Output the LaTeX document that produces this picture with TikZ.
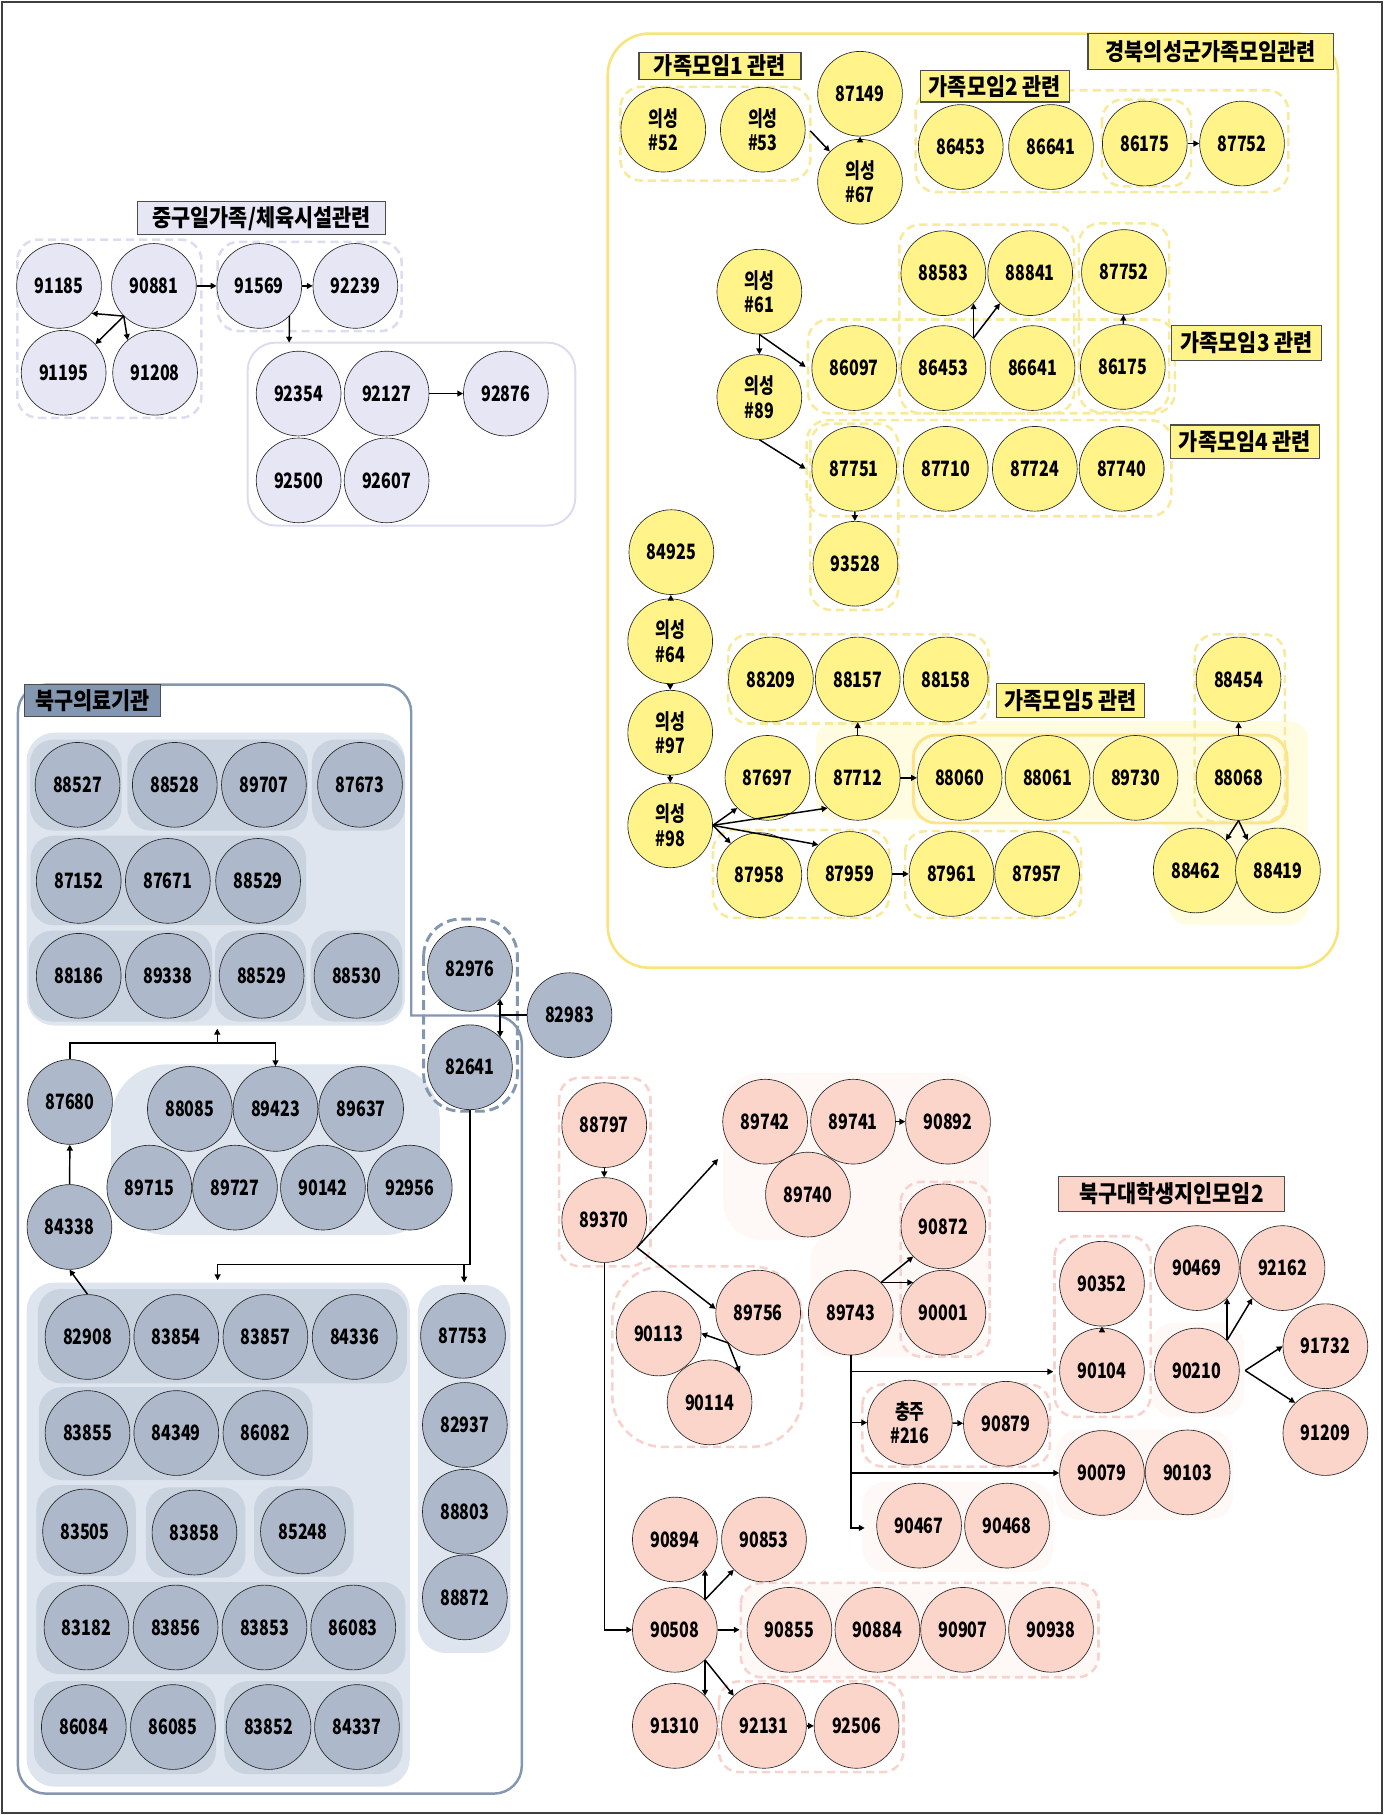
\documentclass[tikz,border=0pt]{standalone}
\usepackage{fontspec}
\setmainfont{Noto Sans CJK KR}
\newfontfamily\numfont[FakeStretch=0.76]{Noto Sans CJK KR}
\newfontfamily\ttlfont[FakeStretch=0.88]{Noto Sans CJK KR}
\usepackage{tikz}
\usetikzlibrary{arrows.meta}

\definecolor{frm}{HTML}{3F3F3F}
\definecolor{lavfill}{HTML}{E6E6F5}
\definecolor{lavdash}{HTML}{DDDDF2}
\definecolor{lavline}{HTML}{DCDCF0}
\definecolor{ylwfill}{HTML}{FFF38A}
\definecolor{ylwline}{HTML}{F8E47C}
\definecolor{ylwdash}{HTML}{F7EA9C}
\definecolor{ylwsolid}{HTML}{FDE48A}
\definecolor{ylwbg}{HTML}{FFFCE2}
\definecolor{blufill}{HTML}{ADB9CA}
\definecolor{bluline}{HTML}{8497B0}
\definecolor{blubg}{HTML}{DEE5EE}
\definecolor{blugrp}{HTML}{C9D2DF}
\definecolor{pnkfill}{HTML}{FBD5CA}
\definecolor{pnkdash}{HTML}{F8D3CD}
\definecolor{pnkbg}{HTML}{FEF8F7}

\begin{document}
\begin{tikzpicture}[x=0.025cm, y=-0.025cm,
   bub/.style={circle, draw=black!85, line width=0.4pt, minimum size=1.83cm, inner sep=0pt, align=center, font=\numfont\bfseries\fontsize{13}{15}\selectfont},
   lav/.style={bub, fill=lavfill},
   ylw/.style={bub, fill=ylwfill},
   blu/.style={bub, fill=blufill},
   pnk/.style={bub, fill=pnkfill},
   ttl/.style={draw=black!70, line width=0.7pt, inner sep=0pt, font=\ttlfont\bfseries\fontsize{14.5}{16}\selectfont},
   lnk/.style={line width=0.9pt, -{Triangle[length=3.6pt, width=3.6pt]}},
   grpd/.style={dashed, dash pattern=on 5pt off 3pt, line width=1.6pt, rounded corners=0.45cm}]
   \useasboundingbox (0,0) rectangle (1198,1568);
   \draw[line width=1.2pt, draw=frm] (1.5,2) rectangle (1194,1566);

   \draw[grpd, draw=lavdash] (15,207) rectangle (174,361);
   \draw[grpd, draw=lavdash] (188,209) rectangle (347,286);
   \draw[line width=1.2pt, draw=lavline, rounded corners=0.6cm] (214,296) rectangle (497,454);
   \node[ttl, fill=lavfill, minimum width=5.35cm, minimum height=0.72cm] (tJung) at (226,188.5) {중구일가족/체육시설관련};
   \node[lav] (n91185) at (51,247) {91185};
   \node[lav] (n90881) at (133,247) {90881};
   \node[lav] (n91195) at (55,322) {91195};
   \node[lav] (n91208) at (134,322) {91208};
   \node[lav] (n91569) at (224,247) {91569};
   \node[lav] (n92239) at (307,247) {92239};
   \node[lav] (n92354) at (258,340) {92354};
   \node[lav] (n92127) at (334,340) {92127};
   \node[lav] (n92876) at (437,340) {92876};
   \node[lav] (n92500) at (258,415) {92500};
   \node[lav] (n92607) at (334,415) {92607};
   \coordinate (cLav) at (249.8,296);
   \draw[lnk] (n90881) -- (n91569);
   \draw[lnk] (n91569) -- (n92239);
   \draw[lnk] (n91569.-45) -- (cLav);
   \draw[lnk] (n90881.225) -- (n91185.-40);
   \draw[lnk] (n90881.225) -- (n91195.42);
   \draw[lnk] (n90881.225) -- (n91208.130);
   \draw[lnk] (n92127) -- (n92876);

   \draw[draw=ylwline, line width=1.6pt, rounded corners=0.9cm] (525,29) rectangle (1156,836);
   \fill[ylwbg, rounded corners=0.4cm] (705,623) -- (1130,623) -- (1130,799) -- (1010,799) -- (1010,708) -- (705,708) -- cycle;
   \draw[grpd, draw=ylwdash] (536,75) rectangle (700,156);
   \draw[grpd, draw=ylwdash] (791,78) rectangle (1113,166);
   \draw[grpd, draw=ylwdash] (952,86) rectangle (1029,161);
   \draw[grpd, draw=ylwdash] (777,194) rectangle (928,357);
   \draw[grpd, draw=ylwdash] (698,276) rectangle (1015,357);
   \draw[grpd, draw=ylwdash] (932,193) rectangle (1010,356);
   \draw[grpd, draw=ylwdash] (697,363) rectangle (1012,446);
   \draw[grpd, draw=ylwdash] (700,366) rectangle (776,527);
   \draw[grpd, draw=ylwdash] (629,548) rectangle (854,625);
   \draw[grpd, draw=ylwdash] (1032,548) rectangle (1110,710);
   \draw[grpd, draw=ylwdash] (616,717) rectangle (768,793);
   \draw[grpd, draw=ylwdash] (782,718) rectangle (934,793);
   \draw[draw=ylwsolid, line width=1.8pt, rounded corners=0.5cm] (789,635) rectangle (1112,711);
   \node[ttl, fill=ylwfill, minimum width=5.3cm, minimum height=0.78cm] (tUi) at (1046,44.5) {경북의성군가족모임관련};
   \node[ttl, fill=ylwfill, minimum width=3.5cm, minimum height=0.58cm] (tGa1) at (622,57) {가족모임1 관련};
   \node[ttl, fill=ylwfill, minimum width=3.22cm, minimum height=0.68cm] (tGa2) at (859.5,74.5) {가족모임2 관련};
   \node[ttl, fill=ylwfill, minimum width=3.23cm, minimum height=0.74cm] (tGa3) at (1077,296.3) {가족모임3 관련};
   \node[ttl, fill=ylwfill, minimum width=3.22cm, minimum height=0.72cm] (tGa4) at (1075.5,381.5) {가족모임4 관련};
   \node[ttl, fill=ylwfill, minimum width=3.2cm, minimum height=0.74cm] (tGa5) at (925,605) {가족모임5 관련};
   \node[ylw] (n52) at (573,112) {의성\\\#52};
   \node[ylw] (n53) at (659,112) {의성\\\#53};
   \node[ylw] (n87149) at (743,81) {87149};
   \node[ylw] (n67) at (743,157) {의성\\\#67};
   \node[ylw] (n86453) at (830,127) {86453};
   \node[ylw] (n86641) at (908,127) {86641};
   \node[ylw] (n86175) at (989,124) {86175};
   \node[ylw] (n87752) at (1073,124) {87752};
   \node[ylw] (n61) at (656,252) {의성\\\#61};
   \node[ylw] (n89) at (656,343) {의성\\\#89};
   \node[ylw] (n88583) at (815,236) {88583};
   \node[ylw] (n88841) at (890,236) {88841};
   \node[ylw] (n87752b) at (971,235) {87752};
   \node[ylw] (n86097) at (738,318) {86097};
   \node[ylw] (n86453b) at (815,318) {86453};
   \node[ylw] (n86641b) at (892,318) {86641};
   \node[ylw] (n86175b) at (970,317) {86175};
   \node[ylw] (n87751) at (738,405) {87751};
   \node[ylw] (n87710) at (817,405) {87710};
   \node[ylw] (n87724) at (894,405) {87724};
   \node[ylw] (n87740) at (969,405) {87740};
   \node[ylw] (n93528) at (739,487) {93528};
   \node[ylw] (n84925) at (580,477) {84925};
   \node[ylw] (n64) at (579,554) {의성\\\#64};
   \node[ylw] (n97) at (579,633) {의성\\\#97};
   \node[ylw] (n98) at (579,713) {의성\\\#98};
   \node[ylw] (n88209) at (666,587) {88209};
   \node[ylw] (n88157) at (741,587) {88157};
   \node[ylw] (n88158) at (817,587) {88158};
   \node[ylw] (n88454) at (1070,587) {88454};
   \node[ylw] (n87697) at (663,672) {87697};
   \node[ylw] (n87712) at (741,672) {87712};
   \node[ylw] (n88060) at (829,672) {88060};
   \node[ylw] (n88061) at (905,672) {88061};
   \node[ylw] (n89730) at (981,672) {89730};
   \node[ylw] (n88068) at (1070,672) {88068};
   \node[ylw] (n87958) at (656,756) {87958};
   \node[ylw] (n87959) at (734,755) {87959};
   \node[ylw] (n87961) at (822,755) {87961};
   \node[ylw] (n87957) at (896,755) {87957};
   \node[ylw] (n88462) at (1033,752) {88462};
   \node[ylw] (n88419) at (1104,752) {88419};
   \coordinate (cG1) at (700,113);
   \coordinate (cGD) at (696,317);
   \coordinate (cGF) at (696,405);
   \draw[lnk] (cG1) -- (n67.135);
   \draw[lnk] (n67) -- (n87149);
   \draw[lnk] (n86175) -- (n87752);
   \draw[lnk] (n61) -- (n89);
   \draw[lnk] (n61.south) -- (cGD);
   \draw[lnk] (n89.south) -- (cGF);
   \draw[lnk] (n86453b.45) -- (n88583.-45);
   \draw[lnk] (n86453b.45) -- (n88841.225);
   \draw[lnk] (n86175b) -- (n87752b);
   \draw[lnk] (n87751) -- (n93528);
   \draw[lnk] (n64) -- (n84925);
   \draw[lnk] (n64) -- (n97);
   \draw[lnk] (n97) -- (n98);
   \draw[lnk] (n98.east) -- (n87697.225);
   \draw[lnk] (n98.east) -- (n87712.225);
   \draw[lnk] (n98.east) -- (n87958.132);
   \draw[lnk] (n98.east) -- (n87959.137);
   \draw[lnk] (n87712) -- (n88060);
   \draw[lnk] (n87712) -- (n88157);
   \draw[lnk] (n87959) -- (n87961);
   \draw[lnk] (n88068) -- (n88454);
   \draw[lnk] (n88068.south) -- (n88462.45);
   \draw[lnk] (n88068.south) -- (n88419.135);

   \fill[blubg, rounded corners=0.6cm] (23,633) rectangle (350,886);
   \fill[blugrp, rounded corners=0.5cm] (26,639) rectangle (105,717.5);
   \fill[blugrp, rounded corners=0.5cm] (110,639) rectangle (266,717.5);
   \fill[blugrp, rounded corners=0.5cm] (269.5,639) rectangle (349.7,717.5);
   \fill[blugrp, rounded corners=0.5cm] (26.4,722) rectangle (264.5,799.3);
   \fill[blugrp, rounded corners=0.5cm] (24.8,804) rectangle (183.4,882.5);
   \fill[blugrp, rounded corners=0.5cm] (185.7,804) rectangle (264.4,882.5);
   \fill[blugrp, rounded corners=0.5cm] (268.4,804) rectangle (347.7,882.5);
   \fill[blubg, rounded corners=1.2cm] (96,919.5) rectangle (380,1067);
   \fill[blubg, rounded corners=0.6cm] (23,1108) rectangle (354,1543.5);
   \fill[blugrp, rounded corners=0.5cm] (32.7,1113.6) rectangle (351.6,1195);
   \fill[blugrp, rounded corners=0.5cm] (33.6,1198.4) rectangle (270,1278.6);
   \fill[blugrp, rounded corners=0.5cm] (31.5,1283) rectangle (117.3,1361.6);
   \fill[blugrp, rounded corners=0.5cm] (126,1285) rectangle (212,1363);
   \fill[blugrp, rounded corners=0.5cm] (219.5,1284) rectangle (305.5,1362);
   \fill[blugrp, rounded corners=0.5cm] (31.5,1366.7) rectangle (350.2,1446.3);
   \fill[blugrp, rounded corners=0.5cm] (29.2,1452.4) rectangle (186.7,1532.6);
   \fill[blugrp, rounded corners=0.5cm] (193.7,1452.4) rectangle (347.8,1532.6);
   \fill[blubg, rounded corners=0.6cm] (361,1110) rectangle (441,1428);
   \draw[draw=bluline, line width=1.5pt, line cap=rect] (355.3,877.3) [rounded corners=0.6cm] -- (450.8,877.3) -- (450.8,1549.5) -- (15.5,1549.5) -- (15.5,591.5) -- (355.3,591.5) -- (355.3,877.3);
   \draw[draw=bluline, dashed, dash pattern=on 6pt off 3pt, line width=1.8pt, rounded corners=0.8cm] (366,794) rectangle (447,960);
   \node[ttl, fill=bluline, minimum width=2.93cm, minimum height=0.7cm] (tBuk) at (80,605) {북구의료기관};
   \node[blu] (n88527) at (67,678) {88527};
   \node[blu] (n88528) at (151,678) {88528};
   \node[blu] (n89707) at (228,678) {89707};
   \node[blu] (n87673) at (311,678) {87673};
   \node[blu] (n87152) at (68,761) {87152};
   \node[blu] (n87671) at (145,761) {87671};
   \node[blu] (n88529) at (223,761) {88529};
   \node[blu] (n88186) at (68,843) {88186};
   \node[blu] (n89338) at (145,843) {89338};
   \node[blu] (n88529b) at (226,843) {88529};
   \node[blu] (n88530) at (308,843) {88530};
   \node[blu] (n82976) at (406,837) {82976};
   \node[blu] (n82641) at (406,922) {82641};
   \node[blu] (n82983) at (492,877) {82983};
   \node[blu] (n87680) at (60.5,952) {87680};
   \node[blu] (n88085) at (164,958) {88085};
   \node[blu] (n89423) at (238,958) {89423};
   \node[blu] (n89637) at (312,958) {89637};
   \node[blu] (n89715) at (129,1026) {89715};
   \node[blu] (n89727) at (203,1026) {89727};
   \node[blu] (n90142) at (279,1026) {90142};
   \node[blu] (n92956) at (354,1026) {92956};
   \node[blu] (n84338) at (60,1060) {84338};
   \node[blu] (n82908) at (75.6,1155) {82908};
   \node[blu] (n83854) at (152.3,1155) {83854};
   \node[blu] (n83857) at (229.3,1155) {83857};
   \node[blu] (n84336) at (306.4,1155) {84336};
   \node[blu] (n83855) at (75.6,1238) {83855};
   \node[blu] (n84349) at (152.3,1238) {84349};
   \node[blu] (n86082) at (229.3,1238) {86082};
   \node[blu] (n83505) at (73.5,1323) {83505};
   \node[blu] (n83858) at (168,1324) {83858};
   \node[blu] (n85248) at (261.7,1323) {85248};
   \node[blu] (n83182) at (74.7,1406) {83182};
   \node[blu] (n83856) at (151.7,1406) {83856};
   \node[blu] (n83853) at (228.5,1406) {83853};
   \node[blu] (n86083) at (305.2,1406) {86083};
   \node[blu] (n86084) at (72.4,1492) {86084};
   \node[blu] (n86085) at (149.4,1492) {86085};
   \node[blu] (n83852) at (232,1492) {83852};
   \node[blu] (n84337) at (308.4,1492) {84337};
   \node[blu] (n87753) at (400,1154) {87753};
   \node[blu] (n82937) at (401.6,1231) {82937};
   \node[blu] (n88803) at (401.6,1306) {88803};
   \node[blu] (n88872) at (401.6,1380) {88872};
   \coordinate (jX) at (n82976.-45 |- n82983.west);
   \coordinate (jTop) at (187.7,901);
   \coordinate (cUp) at (187.7,888.7);
   \coordinate (jLow) at (406,1092.3);
   \coordinate (cL) at (188,1106);
   \coordinate (cR) at (401,1108);
   \draw[line width=0.9pt] (n82983.west) -- (jX);
   \draw[lnk] (jX) -- (n82976.-45);
   \draw[lnk] (jX) -- (n82641.45);
   \draw[lnk] (n87680.north) |- (jTop) -| (n89423.north);
   \draw[lnk] (jTop) -- (cUp);
   \draw[lnk] (n84338) -- (n87680);
   \draw[lnk] (n82908.north) -- (n84338.south);
   \draw[lnk] (n82641.south) -- (jLow) -| (cL);
   \draw[lnk] (jLow -| cR) -- (cR);

   \fill[pnkbg, rounded corners=0.8cm] (625,927) rectangle (854,1071);
   \fill[pnkbg, rounded corners=0.5cm] (700,1068) rectangle (855,1172);
   \fill[pnkbg, rounded corners=0.5cm] (994,1143) rectangle (1075,1224);
   \fill[pnkbg, rounded corners=0.5cm] (912,1235) rectangle (1065,1313);
   \fill[pnkbg, rounded corners=0.5cm] (745,1280) rectangle (910,1358);
   \fill[pnkbg, rounded corners=0.5cm] (640,1367.5) rectangle (949,1449);
   \draw[grpd, draw=pnkdash] (483,931) rectangle (562,1094);
   \draw[grpd, draw=pnkdash] (778,1021) rectangle (855,1172);
   \draw[grpd, draw=pnkdash, rounded corners=1.1cm] (529,1094) rectangle (693,1250);
   \draw[grpd, draw=pnkdash] (745,1196) rectangle (907,1267);
   \draw[grpd, draw=pnkdash] (911,1068) rectangle (994,1224);
   \draw[grpd, draw=pnkdash] (640,1367.5) rectangle (949,1449);
   \draw[grpd, draw=pnkdash] (621,1452.5) rectangle (780.5,1531);
   \node[ttl, fill=pnkfill, minimum width=4.88cm, minimum height=0.76cm] (tDae) at (1012,1031.4) {북구대학생지인모임2};
   \node[pnk] (n88797) at (522,972) {88797};
   \node[pnk] (n89370) at (522,1054) {89370};
   \node[pnk] (n89742) at (661,969) {89742};
   \node[pnk] (n89741) at (737,969) {89741};
   \node[pnk] (n90892) at (819,969) {90892};
   \node[pnk] (n89740) at (698,1032) {89740};
   \node[pnk] (n90872) at (815,1059.5) {90872};
   \node[pnk] (n89756) at (655,1134) {89756};
   \node[pnk] (n89743) at (735,1134) {89743};
   \node[pnk] (n90001) at (815,1134) {90001};
   \node[pnk] (n90113) at (569,1152) {90113};
   \node[pnk] (n90114) at (613,1211.5) {90114};
   \node[pnk] (n216) at (786,1229) {충주\\\#216};
   \node[pnk] (n90879) at (869,1230) {90879};
   \node[pnk] (n90352) at (952,1109) {90352};
   \node[pnk] (n90104) at (952,1184) {90104};
   \node[pnk] (n90469) at (1034,1095.5) {90469};
   \node[pnk] (n92162) at (1108,1095.5) {92162};
   \node[pnk] (n90210) at (1034,1184) {90210};
   \node[pnk] (n91732) at (1145,1163) {91732};
   \node[pnk] (n91209) at (1145,1238) {91209};
   \node[pnk] (n90079) at (952,1272.5) {90079};
   \node[pnk] (n90103) at (1026,1272) {90103};
   \node[pnk] (n90467) at (794,1318) {90467};
   \node[pnk] (n90468) at (870,1318) {90468};
   \node[pnk] (n90894) at (583,1330) {90894};
   \node[pnk] (n90853) at (660,1330) {90853};
   \node[pnk] (n90508) at (583,1408) {90508};
   \node[pnk] (n90855) at (682,1408) {90855};
   \node[pnk] (n90884) at (758,1408) {90884};
   \node[pnk] (n90907) at (832,1408) {90907};
   \node[pnk] (n90938) at (908,1408) {90938};
   \node[pnk] (n91310) at (583,1491) {91310};
   \node[pnk] (n92131) at (660,1491) {92131};
   \node[pnk] (n92506) at (740,1491) {92506};
   \coordinate (cPB) at (620.4,1001.3);
   \coordinate (cF1) at (910,1185);
   \coordinate (cH1) at (747,1320);
   \coordinate (cJ) at (639,1408);
   \coordinate (jR) at ([xshift=0.12cm]n90210.east);
   \draw[lnk] (n88797) -- (n89370);
   \draw[lnk] (n89370.-40) -- (cPB);
   \draw[lnk] (n89370.-40) -- (n89756.175);
   \draw[lnk] (n89741) -- (n90892);
   \draw[lnk] (n89756.225) -- (n90113.east);
   \draw[lnk] (n89756.225) -- (n90114.45);
   \draw[lnk] (n89743.45) -- (n90872.225);
   \draw[lnk] (n89743.45) -- (n90001.135);
   \draw[lnk] (n89743.south) |- (cF1);
   \draw[lnk] (n89743.south) |- (n216.west);
   \draw[lnk] (n89743.south) |- (n90079.west);
   \draw[lnk] (n89743.south) |- (cH1);
   \draw[lnk] (n216) -- (n90879);
   \draw[lnk] (n90104) -- (n90352);
   \draw[lnk] (n90210.45) -- (n90469.-45);
   \draw[lnk] (n90210.45) -- (n92162.225);
   \draw[lnk] (jR) -- (n91732.west);
   \draw[lnk] (jR) -- (n91209.135);
   \draw[lnk] (n89370.south) |- (n90508.west);
   \draw[lnk] (n90508.45) -- (n90894.-45);
   \draw[lnk] (n90508.45) -- (n90853.225);
   \draw[lnk] (n90508) -- (cJ);
   \draw[lnk] (n90508.-45) -- (n91310.45);
   \draw[lnk] (n90508.-45) -- (n92131.135);
   \draw[lnk] (n92131) -- (n92506);
\end{tikzpicture}
\end{document}
